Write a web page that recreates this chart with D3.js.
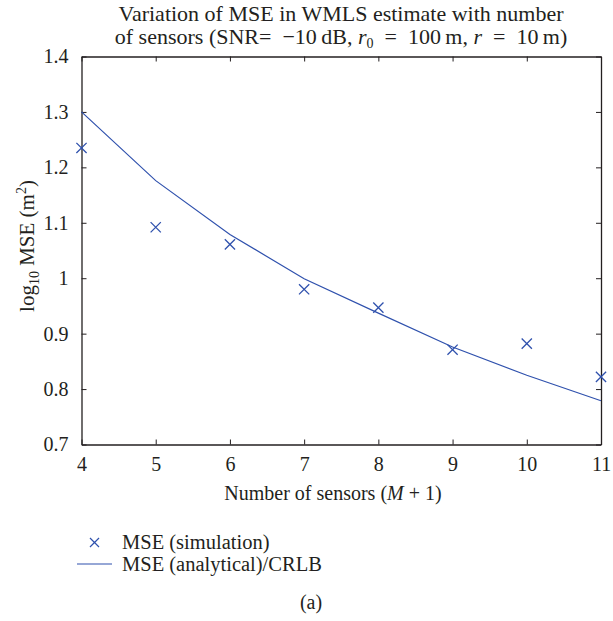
<!doctype html>
<html>
<head>
<meta charset="utf-8">
<title>MSE vs sensors</title>
<script src="https://cdn.jsdelivr.net/npm/d3@7"></script>
<style>
  body { margin: 0; background: #fff; }
  svg text { font-family: "Liberation Serif", "DejaVu Serif", serif; fill: #231f20; }
</style>
</head>
<body>
<svg width="613" height="621"></svg>
<script>
// data
var sensors = [4, 5, 6, 7, 8, 9, 10, 11];
var mseSim = [1.235, 1.092, 1.061, 0.980, 0.947, 0.871, 0.882, 0.822];
var mseCrlb = [1.300, 1.176, 1.079, 0.999, 0.937, 0.876, 0.825, 0.779];
var yTicks = [0.7, 0.8, 0.9, 1.0, 1.1, 1.2, 1.3, 1.4];
var seriesNames = ["MSE (simulation)", "MSE (analytical)/CRLB"];

var blue = "#2f51ad";
var svg = d3.select("svg");

var x = d3.scaleLinear().domain([4, 11]).range([81.5, 601]);
var y = d3.scaleLinear().domain([0.7, 1.4]).range([444.5, 56.5]);

// title
var title = svg.append("text").attr("x", 341).attr("text-anchor", "middle").style("font-size", "22px");
title.append("tspan").attr("x", 341).attr("y", 21).text("Variation of MSE in WMLS estimate with number");
var t2 = title.append("tspan").attr("x", 341).attr("y", 44);
t2.append("tspan").text("of sensors (SNR=\u2002\u221210\u2009dB, ");
t2.append("tspan").style("font-style", "italic").text("r");
t2.append("tspan").attr("dy", 4).style("font-size", "14px").text("0");
t2.append("tspan").attr("dy", -4).text("\u2002=\u2002100\u2009m, ");
t2.append("tspan").style("font-style", "italic").text("r");
t2.append("tspan").text("\u2002=\u200210\u2009m)");

// axes, ticks inward on all sides
var g = svg.append("g");
g.append("g").attr("transform", "translate(0,444.5)")
  .call(d3.axisBottom(x).tickValues(sensors).tickSizeInner(-5).tickSizeOuter(0).tickFormat(d3.format("d")).tickPadding(12));
g.append("g").attr("transform", "translate(0,56.5)")
  .call(d3.axisTop(x).tickValues(sensors).tickSizeInner(-5).tickSizeOuter(0).tickFormat(""));
g.append("g").attr("transform", "translate(81.5,0)")
  .call(d3.axisLeft(y).tickValues(yTicks).tickSizeInner(-5).tickSizeOuter(0)
    .tickFormat(function (d) { return d === 1 ? "1" : d3.format(".1f")(d); }).tickPadding(13));
g.append("g").attr("transform", "translate(601,0)")
  .call(d3.axisRight(y).tickValues(yTicks).tickSizeInner(-5).tickSizeOuter(0).tickFormat(""));
g.selectAll(".domain").attr("stroke", "#231f20").attr("stroke-width", 1.3);
g.selectAll(".tick line").attr("stroke", "#231f20").attr("stroke-width", 1);
g.selectAll(".tick text").style("font-size", "20px").style("font-family", "Liberation Serif, serif").attr("fill", "#231f20");

// x label
var xl = svg.append("text").attr("x", 333).attr("y", 500).attr("text-anchor", "middle").style("font-size", "20px");
xl.append("tspan").text("Number of sensors (");
xl.append("tspan").style("font-style", "italic").text("M");
xl.append("tspan").text(" + 1)");

// y label
var yl = svg.append("text").attr("transform", "translate(34,246) rotate(-90)").attr("text-anchor", "middle").style("font-size", "21px");
yl.append("tspan").text("log");
yl.append("tspan").attr("dy", 5).style("font-size", "14px").text("10");
yl.append("tspan").attr("dy", -5).text(" MSE (m");
yl.append("tspan").attr("dy", -8).style("font-size", "14px").text("2");
yl.append("tspan").attr("dy", 8).text(")");

// analytical line
var line = d3.line().x(function (d, i) { return x(sensors[i]); }).y(function (d) { return y(d); });
svg.append("path").datum(mseCrlb).attr("d", line).attr("fill", "none").attr("stroke", blue).attr("stroke-width", 1.2);

// simulation markers
var cross = d3.symbol().type(d3.symbolX).size(70);
svg.append("g").selectAll("path").data(mseSim).join("path")
  .attr("transform", function (d, i) { return "translate(" + x(sensors[i]) + "," + y(d) + ")"; })
  .attr("d", cross).attr("fill", "none").attr("stroke", blue).attr("stroke-width", 1.3);

// legend
var lg = svg.append("g");
lg.append("path").attr("transform", "translate(94.5,542.5)").attr("d", d3.symbol().type(d3.symbolX).size(55))
  .attr("fill", "none").attr("stroke", blue).attr("stroke-width", 1.2);
lg.append("line").attr("x1", 77).attr("x2", 112).attr("y1", 564).attr("y2", 564)
  .attr("stroke", blue).attr("stroke-width", 1.2);
lg.selectAll("text").data(seriesNames).join("text")
  .attr("x", 122).attr("y", function (d, i) { return 549 + i * 21.5; })
  .style("font-size", "20.5px").text(function (d) { return d; });

svg.append("text").attr("x", 311).attr("y", 609).attr("text-anchor", "middle").style("font-size", "20px").text("(a)");
</script>
</body>
</html>
